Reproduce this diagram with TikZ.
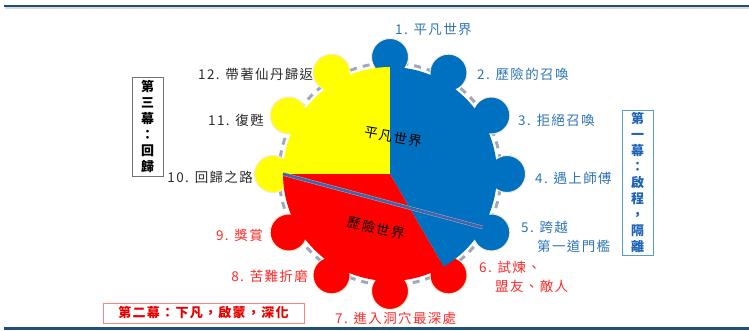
\documentclass[tikz,border=0pt]{standalone}
\usepackage{fontspec}
\newfontfamily\cjk[LetterSpace=10]{Noto Sans CJK TC}
\usetikzlibrary{calc}
\definecolor{cblue}{RGB}{0,112,192}
\definecolor{cyel}{RGB}{255,255,0}
\definecolor{cred}{RGB}{255,0,0}
\definecolor{lblue}{RGB}{46,117,182}
\definecolor{lred}{RGB}{255,40,40}
\definecolor{lblack}{RGB}{45,45,45}
\definecolor{ringgray}{RGB}{160,168,185}
\definecolor{rulecol}{RGB}{31,78,121}
\definecolor{diagcol}{RGB}{68,100,165}
\definecolor{diagedge}{RGB}{150,172,210}
\definecolor{glow}{RGB}{245,235,205}
\begin{document}
\begin{tikzpicture}[x=1pt,y=1pt,
  gearc/.style={circle,minimum size=37pt,inner sep=0pt,draw=glow,line width=1pt},
  lbl/.style={font=\cjk\fontsize{13.5}{19}\selectfont,inner sep=0pt,align=left},
  ctext/.style={font=\cjk\fontsize{13.5}{16}\selectfont,inner sep=0pt,text=black},
  actbox/.style={draw,line width=0.9pt,inner sep=0pt,align=center,font=\cjk\bfseries\fontsize{13}{16}\selectfont}]
\useasboundingbox (0,0) rectangle (749,330);
% rules
\coordinate (tl) at (4,324); \coordinate (tr) at (749,324);
\coordinate (bl) at (4,1.5); \coordinate (br) at (749,1.5);
\draw[line width=2pt,black!15] ($(tl)+(1,-2)$) -- ($(tr)+(0,-2)$);
\draw[line width=2.2pt,rulecol] (tl) -- (tr);
\draw[line width=2.2pt,rulecol] (bl) -- (br);
% centre
\coordinate (c) at (390,156);
% dashed ring
\draw[ringgray,line width=3pt,dash pattern=on 7pt off 6pt] (c) circle[radius=111];
% gear circles
\foreach \i/\col in {1/cblue,2/cblue,3/cblue,4/cblue,5/cblue,6/cred,7/cred,8/cred,9/cred,10/cyel,11/cyel,12/cyel}{
  \node[gearc,fill=\col] (g\i) at ($(c)+({90-30*(\i-1)}:117)$) {};
}
% sectors
\fill[cyel] (c) -- ++(90:107) arc[start angle=90,end angle=180,radius=107] -- cycle;
\fill[cblue] (c) -- ++(-60:107) arc[start angle=-60,end angle=90,radius=107] -- cycle;
\fill[cred] (c) -- ++(180:107) arc[start angle=180,end angle=300,radius=107] -- cycle;
% diagonal
\coordinate (d1) at ($(c)+(180:107)$);
\coordinate (d2) at ($(c)+(-30:107)$);
\draw[diagedge,line width=3.6pt] (d1) -- (d2);
\draw[diagcol,line width=2.6pt] (d1) -- (d2);
% centre texts
\node[ctext,rotate=-10] (ordinary) at (393,193) {平凡世界};
\node[ctext,rotate=-12] (special) at (376,102) {歷險世界};
% labels
\node[lbl,text=lblue,anchor=west] (l1) at (395,301) {1. 平凡世界};
\node[lbl,text=lblue,anchor=west] (l2) at (477,256) {2. 歷險的召喚};
\node[lbl,text=lblue,anchor=west] (l3) at (518,210) {3. 拒絕召喚};
\node[lbl,text=lblue,anchor=west] (l4) at (535,152) {4. 遇上師傅};
\node[lbl,text=lblue,anchor=west] (l5) at (521,93.5) {5. 跨越\\\hspace*{16pt}第一道門檻};
\node[lbl,text=lred,anchor=west] (l6) at (479,53.5) {6. 試煉、\\\hspace*{16pt}盟友、敵人};
\node[lbl,text=lred,anchor=west] (l7) at (335,12) {7. 進入洞穴最深處};
\node[lbl,text=lred,anchor=east] (l8) at (308,54) {8. 苦難折磨};
\node[lbl,text=lred,anchor=east] (l9) at (263,95) {9. 獎賞};
\node[lbl,text=lblack,anchor=east] (l10) at (253,153) {10. 回歸之路};
\node[lbl,text=lblack,anchor=east] (l11) at (264,210) {11. 復甦};
\node[lbl,text=lblack,anchor=west] (l12) at (198,256) {12. 帶著仙丹歸返};
% act boxes
\node[actbox,draw=black!55,text=black,minimum width=31pt,minimum height=99pt] (act3) at (147.5,203.5)
  {第\\三\\幕\\：\\回\\歸};
\node[actbox,draw={rgb,255:red,91;green,155;blue,213},text={rgb,255:red,30;green,100;blue,180},minimum width=31pt,minimum height=145pt] (act1) at (637.5,147.5)
  {第\\一\\幕\\：\\啟\\程\\，\\隔\\離};
\node[actbox,draw={rgb,255:red,255;green,130;blue,130},text={rgb,255:red,230;green,0;blue,0},minimum width=201pt,minimum height=20pt] (act2) at (203.5,17)
  {第二幕：下凡，啟蒙，深化};
\end{tikzpicture}
\end{document}
